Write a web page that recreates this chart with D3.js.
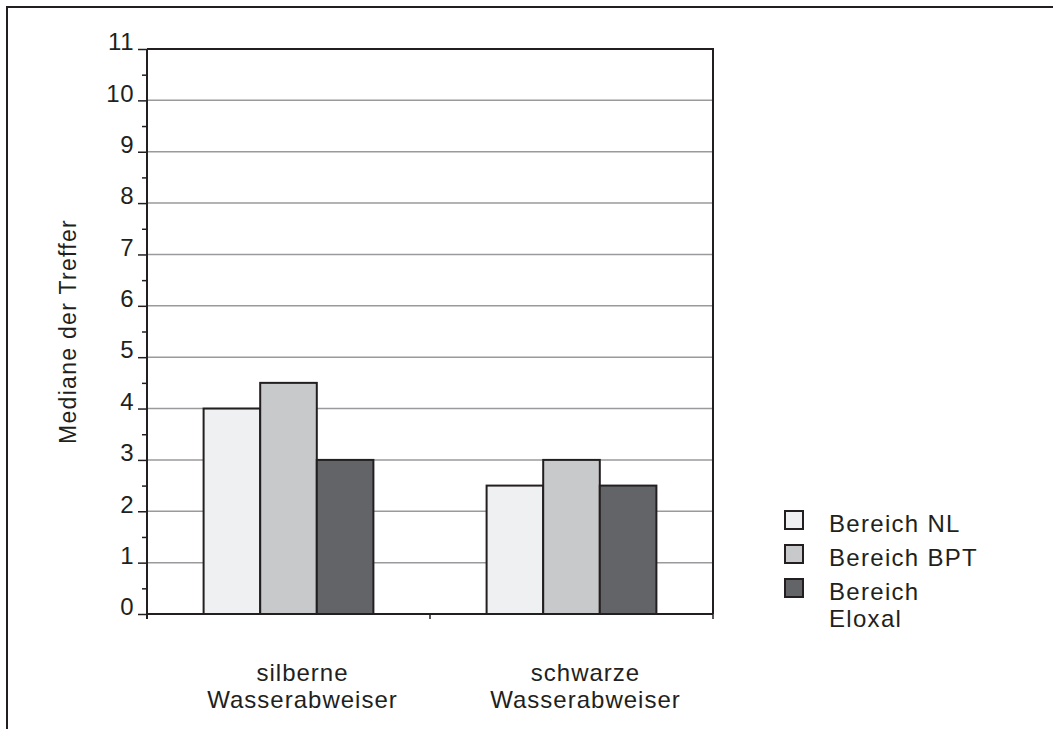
<!DOCTYPE html>
<html>
<head>
<meta charset="utf-8">
<script src="https://cdn.jsdelivr.net/npm/d3@7"></script>
<style>
  html, body { margin: 0; padding: 0; background: #fff; }
  svg text { font-family: "Liberation Sans", Arial, Helvetica, sans-serif; fill: #231f20; }
</style>
</head>
<body>
<svg id="chart" width="1053" height="729"></svg>
<script>
const categories = [["silberne", "Wasserabweiser"], ["schwarze", "Wasserabweiser"]];
const seriesNames = [["Bereich NL"], ["Bereich BPT"], ["Bereich", "Eloxal"]];
const seriesColors = ["#eff0f1", "#c8c9cb", "#636467"];
const valuesNL = [4, 2.5];
const valuesBPT = [4.5, 3];
const valuesEloxal = [3, 2.5];
const yTicks = [0, 1, 2, 3, 4, 5, 6, 7, 8, 9, 10, 11];
const yMinorTicks = [0.5, 1.5, 2.5, 3.5, 4.5, 5.5, 6.5, 7.5, 8.5, 9.5, 10.5];
const yLabel = "Mediane der Treffer";

(function () {
const series = [valuesNL, valuesBPT, valuesEloxal];
const dark = "#231f20";
const svg = d3.select("#chart");

// outer frame
svg.append("path").attr("d", "M7,729 V7 H1053").attr("fill", "none")
  .attr("stroke", dark).attr("stroke-width", 2);

const pL = 147, pR = 713, pT = 49, pB = 614;
const x0 = d3.scaleBand().domain(d3.range(categories.length)).range([pL, pR])
  .paddingInner(0.4).paddingOuter(0.2);
const x1 = d3.scaleBand().domain(d3.range(series.length)).range([0, x0.bandwidth()]);
const xCat = d3.scaleBand().domain(d3.range(categories.length)).range([pL, pR]);
const y = d3.scaleLinear().domain([0, 11]).range([pB, pT]);

// gridlines
svg.append("g").selectAll("line").data(yTicks.filter(t => t > 0 && t < 11)).join("line")
  .attr("x1", pL).attr("x2", pR)
  .attr("y1", d => y(d)).attr("y2", d => y(d))
  .attr("stroke", "#9a9a9c").attr("stroke-width", 1.5);

// bars
const g = svg.append("g");
categories.forEach((c, ci) => {
  series.forEach((s, si) => {
    g.append("rect")
      .attr("x", x0(ci) + x1(si))
      .attr("y", y(s[ci]))
      .attr("width", x1.bandwidth())
      .attr("height", y(0) - y(s[ci]))
      .attr("fill", seriesColors[si])
      .attr("stroke", dark).attr("stroke-width", 2);
  });
});

// plot border top & right
svg.append("path").attr("d", `M${pL},${y(11)} H${pR} V${pB}`)
  .attr("fill", "none").attr("stroke", dark).attr("stroke-width", 2);

// y axis
const yAxis = d3.axisLeft(y).tickValues(yTicks).tickSize(9).tickPadding(4).tickFormat(d3.format("d"));
const ya = svg.append("g").attr("transform", `translate(${pL},0)`).call(yAxis);
ya.select(".domain").attr("stroke", dark).attr("stroke-width", 2).attr("d", `M0,${pT}V${pB + 5}`);
ya.selectAll(".tick line").attr("stroke", dark).attr("stroke-width", 1.5);
ya.selectAll(".tick text").attr("font-size", 24).attr("letter-spacing", "0.5px")
  .attr("fill", dark).attr("dy", "0.03em").attr("font-family", "Liberation Sans, Arial, sans-serif");
const yMinor = d3.axisLeft(y).tickValues(yMinorTicks).tickSize(5).tickFormat("");
const ym = svg.append("g").attr("transform", `translate(${pL},0)`).call(yMinor);
ym.select(".domain").remove();
ym.selectAll(".tick line").attr("stroke", dark).attr("stroke-width", 1.5);

// x axis
svg.append("line").attr("x1", pL).attr("x2", pR).attr("y1", pB).attr("y2", pB)
  .attr("stroke", dark).attr("stroke-width", 2);
const xTickPos = [pL].concat(categories.map((c, i) => xCat(i) + xCat.bandwidth()));
svg.append("g").selectAll("line").data(xTickPos).join("line")
  .attr("x1", d => d).attr("x2", d => d).attr("y1", pB).attr("y2", pB + 5)
  .attr("stroke", dark).attr("stroke-width", 1.5);

// category labels
categories.forEach((c, ci) => {
  const cx = x0(ci) + x0.bandwidth() / 2 + 14;
  const t = svg.append("text")
    .attr("text-anchor", "middle")
    .attr("font-size", 24).attr("letter-spacing", "1px");
  c.forEach((line, li) => {
    t.append("tspan").attr("x", cx).attr("y", 681 + li * 27).text(line);
  });
});

// y label
svg.append("text")
  .attr("transform", `translate(76,${(pT + pB) / 2}) rotate(-90)`)
  .attr("text-anchor", "middle")
  .attr("font-size", 23).attr("letter-spacing", "1.3px")
  .text(yLabel);

// legend
const lg = svg.append("g");
seriesNames.forEach((name, i) => {
  const yy = 511 + i * 34;
  lg.append("rect").attr("x", 785).attr("y", yy).attr("width", 18).attr("height", 18)
    .attr("fill", seriesColors[i]).attr("stroke", dark).attr("stroke-width", 2);
  const t = lg.append("text").attr("font-size", 24).attr("letter-spacing", "1.3px");
  name.forEach((line, li) => {
    t.append("tspan").attr("x", 829).attr("y", yy + 21 + li * 27).text(line);
  });
});
})();
</script>
</body>
</html>
